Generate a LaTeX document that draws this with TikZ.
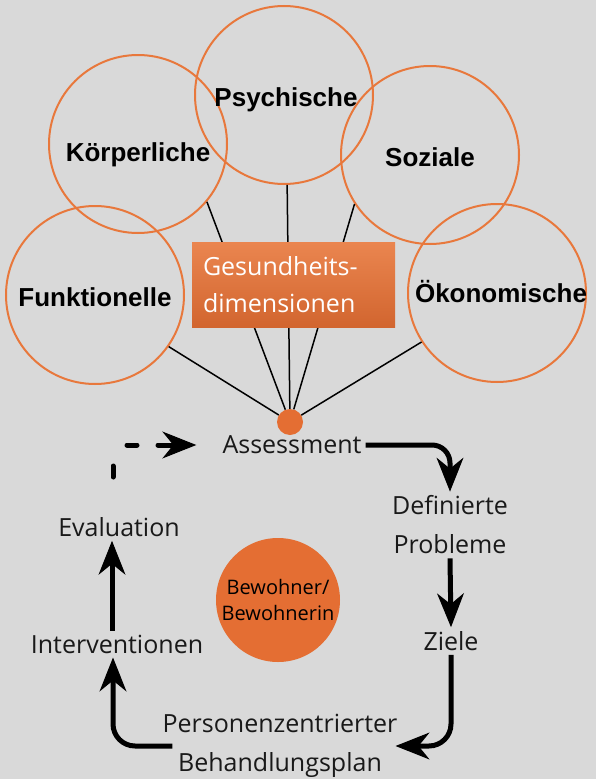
\documentclass[tikz,border=0pt]{standalone}
\usepackage{fontspec}
\setmainfont{Open Sans}
\newfontfamily\dimfont{Liberation Sans}
\usetikzlibrary{arrows.meta, calc}

\definecolor{bg}{HTML}{D9D9D9}
\definecolor{orng}{HTML}{E8783C}
\definecolor{orngfill}{HTML}{E46E33}

\begin{document}
\begin{tikzpicture}[x=1pt, y=-1pt,
	dimcircle/.style={draw=orng, line width=2pt, circle, minimum size=178pt,
		inner sep=0pt},
	dimlabel/.style={font=\dimfont\bfseries\fontsize{26}{30}\selectfont,
		text height=19pt, text depth=0pt, inner sep=0pt},
	dimbox/.style={top color=orng!90!white, bottom color=orngfill!92!black,
		text=white, minimum width=203pt, minimum height=85pt, text width=181pt,
		inner sep=11pt, align=left, font=\fontsize{25}{37}\selectfont},
	steptext/.style={font=\fontsize{25}{39}\selectfont, text=black!90,
		align=center, inner sep=4pt},
	flow/.style={line width=5pt,
		-{Stealth[length=34pt 0 0, width=27pt 0, inset=11pt 0, line width=1pt]}},
	dashflow/.style={flow, line cap=round,
		dash pattern=on 11pt off 35pt on 10pt off 21pt on 60pt}
]
	\useasboundingbox (0,0) rectangle (596,779);
	\fill[bg] (0,0) rectangle (596,779);

	% Dimensionen
	\node[dimcircle, label={[dimlabel, yshift=-8pt]center:Körperliche}] (koerper) at (138,144) {};
	\node[dimcircle, label={[dimlabel, xshift=2pt, yshift=-2pt]center:Psychische}] (psych) at (284,95) {};
	\node[dimcircle, label={[dimlabel, yshift=-2pt]center:Soziale}] (sozial) at (430,155) {};
	\node[dimcircle, label={[dimlabel, yshift=-2pt]center:Funktionelle}] (funkt) at (95,295) {};
	\node[dimcircle, label={[dimlabel, xshift=4pt]center:Ökonomische}] (oekon) at (497,293) {};

	\node[circle, fill=orngfill, minimum size=26pt, inner sep=0pt] (hub) at (290,422) {};

	\draw[line width=1.5pt] (hub) -- (koerper.-40);
	\draw[line width=1.5pt] (hub) -- (psych.-88);
	\draw[line width=1.5pt] (hub) -- (sozial.213);
	\draw[line width=1.5pt] (hub) -- (funkt.-35);
	\draw[line width=1.5pt] (hub) -- (oekon.213);

	\node[dimbox] (gesdim) at (293.5,284.5) {Gesundheits-\\dimensionen};

	% Pflegeprozess
	\node[steptext] (assess) at (292,445) {Assessment};
	\node[steptext] (defi)   at (450,525) {Definierte\\Probleme};
	\node[steptext] (ziele)  at (451,641) {Ziele};
	\node[steptext] (plan)   at (280,746) {Personenzentrierter\\Behandlungsplan};
	\node[steptext] (interv) at (117,644) {Interventionen};
	\node[steptext] (eval)   at (119,527) {Evaluation};

	\node[circle, fill=orngfill, minimum size=124pt, inner sep=0pt, align=center,
		font=\fontsize{20}{26}\selectfont] (bewohner) at (278,600) {Bewohner/\\Bewohnerin};

	\draw[flow] (assess.east) [rounded corners=18pt] -| (defi.north);
	\draw[flow] (defi.south) -- (ziele.north);
	\draw[flow] (ziele.south) [rounded corners=22pt] |- ([xshift=-6pt]plan.east);
	\draw[flow] ([xshift=14pt]plan.west) [rounded corners=22pt] -| ([xshift=-4pt]interv.south);
	\draw[flow] ([xshift=-5pt]interv.north) -- ([xshift=-5pt]interv.north |- eval.south);

	\coordinate (evalout) at (113,477);
	\draw[dashflow] (evalout) |- ([xshift=-22pt]assess.west);
\end{tikzpicture}
\end{document}
